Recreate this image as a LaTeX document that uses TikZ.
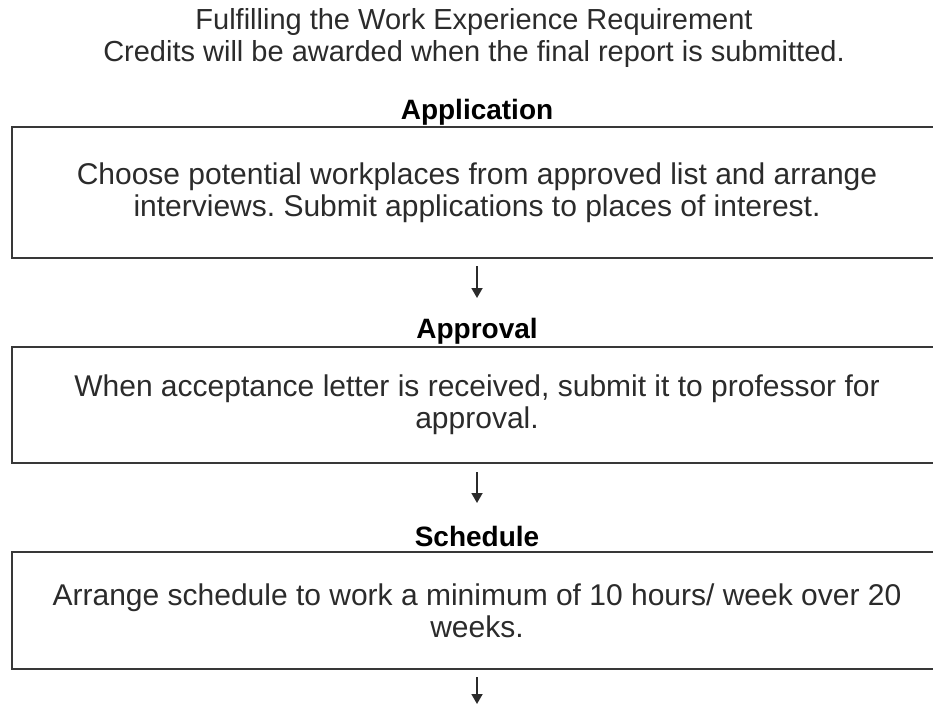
\documentclass[tikz,border=0pt]{standalone}
\usepackage{fontspec}
\setmainfont{Liberation Sans}
\usetikzlibrary{arrows.meta}
\pgfdeclarelayer{edgelayer}
\pgfdeclarelayer{nodelayer}
\pgfsetlayers{edgelayer,nodelayer,main}
\tikzstyle{none}=[inner sep=0pt]
\tikzstyle{heading}=[inner sep=0pt, text=black, font=\bfseries\fontsize{28}{32}\selectfont]
\tikzstyle{stepbox}=[rectangle, draw=frame, line width=1.8pt, minimum width=930pt, align=center, text=ink, font=\fontsize{30}{32}\selectfont]
\definecolor{ink}{rgb}{0.17,0.17,0.17}
\definecolor{frame}{rgb}{0.22,0.22,0.22}
\frenchspacing

\begin{document}
\begin{tikzpicture}[x=1pt, y=1pt]
    \useasboundingbox (0, 0) rectangle (933, -706);
    \begin{pgfonlayer}{nodelayer}
	\node [style=none, align=center, text=ink, font=\fontsize{29}{32}\selectfont] (0) at (474, -38) {Fulfilling the Work Experience Requirement\\Credits will be awarded when the final report is submitted.};
	\node [style=heading] (1) at (477, -112) {Application};
	\node [style=stepbox, minimum height=131pt] (2) at (477, -192.5) {Choose potential workplaces from approved list and arrange\\interviews. Submit applications to places of interest.};
	\node [style=none] (3) at (477, -266) {};
	\node [style=none] (4) at (477, -298) {};
	\node [style=heading] (5) at (477, -331) {Approval};
	\node [style=stepbox, minimum height=116pt] (6) at (477, -405) {When acceptance letter is received, submit it to professor for\\approval.};
	\node [style=none] (7) at (477, -472) {};
	\node [style=none] (8) at (477, -503) {};
	\node [style=heading] (9) at (477, -536) {Schedule};
	\node [style=stepbox, minimum height=117pt] (10) at (477, -610.5) {Arrange schedule to work a minimum of 10 hours/ week over 20\\weeks.};
	\node [style=none] (11) at (477, -677) {};
	\node [style=none] (12) at (477, -704) {};
    \end{pgfonlayer}
    \begin{pgfonlayer}{edgelayer}
	\draw [-{Triangle[width=11pt, length=10pt]}, line width=1.8pt, color=ink] (3.center) to (4.center);
	\draw [-{Triangle[width=11pt, length=10pt]}, line width=1.8pt, color=ink] (7.center) to (8.center);
	\draw [-{Triangle[width=11pt, length=10pt]}, line width=1.8pt, color=ink] (11.center) to (12.center);
    \end{pgfonlayer}
\end{tikzpicture}
\end{document}
